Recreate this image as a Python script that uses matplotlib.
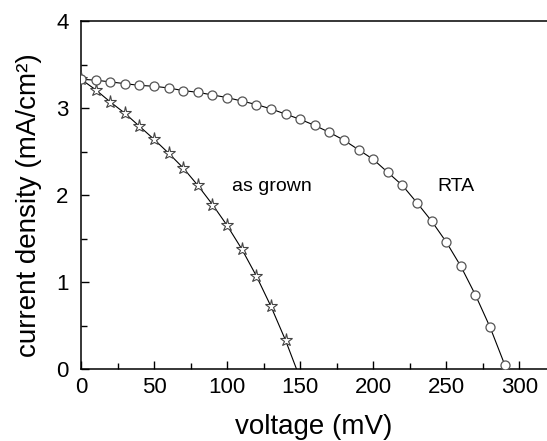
import matplotlib
matplotlib.use("Agg")
import matplotlib.pyplot as plt
from matplotlib.ticker import MultipleLocator

plt.rcParams['font.family'] = ['Liberation Sans', 'DejaVu Sans']

# as grown (stars)
grown_v = [0, 10, 20, 30, 40, 50, 60, 70, 80, 90, 100, 110, 120, 130, 140]
grown_j = [3.33, 3.21, 3.07, 2.94, 2.79, 2.64, 2.48, 2.31, 2.11, 1.89, 1.65, 1.38, 1.07, 0.72, 0.33]
grown_voc = 147.5

# RTA (circles)
rta_v = [0, 10, 20, 30, 40, 50, 60, 70, 80, 90, 100, 110, 120, 130, 140, 150,
         160, 170, 180, 190, 200, 210, 220, 230, 240, 250, 260, 270, 280, 290]
rta_j = [3.33, 3.32, 3.30, 3.28, 3.26, 3.25, 3.23, 3.20, 3.18, 3.15, 3.12, 3.08,
         3.04, 2.99, 2.93, 2.87, 2.80, 2.72, 2.63, 2.52, 2.41, 2.26, 2.11, 1.91,
         1.70, 1.46, 1.18, 0.85, 0.48, 0.05]
rta_voc = 291.5

fig = plt.figure(figsize=(5.47, 4.41), dpi=100)
ax = fig.add_axes([81/547, 1-369/441, 1-81/547, (369-21)/441])

ax.plot(grown_v + [grown_voc], grown_j + [0], color='black', lw=0.8, zorder=2)
ax.plot(grown_v, grown_j, linestyle='none', marker='*', ms=9.5, mfc='white',
        mec='#444444', mew=0.8, zorder=3)
ax.plot(rta_v + [rta_voc], rta_j + [0], color='black', lw=0.8, zorder=2)
ax.plot(rta_v, rta_j, linestyle='none', marker='o', ms=6.5, mfc='white',
        mec='#555555', mew=0.9, zorder=3)

ax.set_xlim(0, (547-81)/1.461)
ax.set_ylim(0, 4)
ax.xaxis.set_major_locator(MultipleLocator(50))
ax.xaxis.set_minor_locator(MultipleLocator(25))
ax.yaxis.set_major_locator(MultipleLocator(1))
ax.yaxis.set_minor_locator(MultipleLocator(0.5))
ax.tick_params(which='both', direction='in', top=False, right=False, labelsize=16, width=1.0)
ax.tick_params(which='major', length=6)
ax.tick_params(which='minor', length=4)
ax.tick_params(axis='y', pad=9)
ax.tick_params(axis='x', pad=6)
for s in ['left', 'bottom', 'top']:
    ax.spines[s].set_linewidth(1.1)
ax.spines['right'].set_visible(False)

ax.text(103.5, 2.1, 'as grown', fontsize=14, va='center', ha='left')
ax.text(244, 2.1, 'RTA', fontsize=14, va='center', ha='left')

ax.set_xlabel('voltage (mV)', fontsize=20)
ax.set_ylabel('current density (mA/cm²)', fontsize=20)
ax.xaxis.set_label_coords(0.5, -0.13)
ax.yaxis.set_label_coords(-0.084, 0.47)

fig.savefig('out.png', dpi=100)
